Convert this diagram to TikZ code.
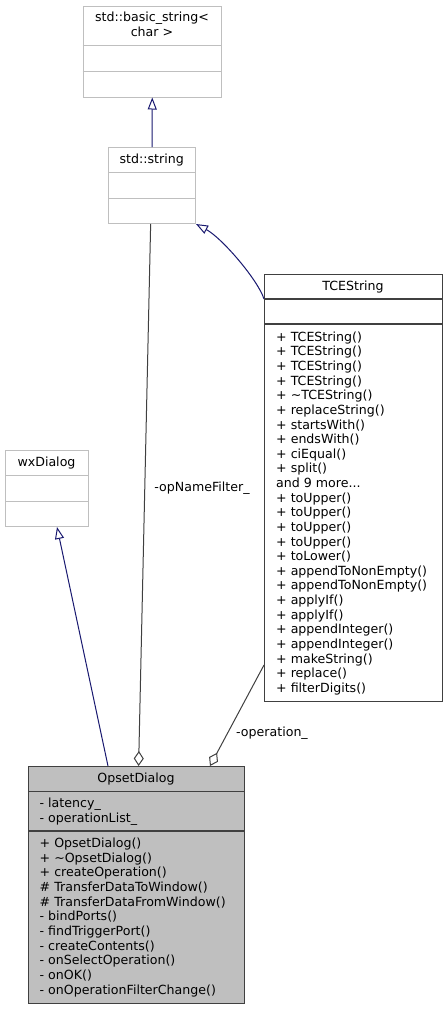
\documentclass[tikz,border=0pt]{standalone}
\usepackage{fontspec}
\newfontfamily\dv{DejaVu Sans}
\usetikzlibrary{arrows.meta,calc}
\definecolor{lgray}{HTML}{BFBFBF}
\definecolor{dgray}{HTML}{404040}
\definecolor{inhblue}{HTML}{191970}
\definecolor{fillgray}{HTML}{BFBFBF}
\newcommand\ninemore{and 9 more...}
\tikzset{
  lbox/.style={draw=lgray,line width=1pt,fill=white,anchor=north west,inner sep=0pt},
  dbox/.style={draw=dgray,line width=1.2pt,anchor=north west,inner sep=0pt},
  sepl/.style={draw=lgray,line width=1pt},
  sepd/.style={draw=dgray,line width=1.2pt},
  txt/.style={font=\dv\fontsize{12.6}{14.6}\selectfont,inner sep=0pt,anchor=base west,text=black},
  ttl/.style={font=\dv\fontsize{12.6}{14.6}\selectfont,inner sep=0pt,anchor=base,text=black},
  inh/.style={draw=inhblue,line width=1pt,-{Triangle[open,length=12,width=9]}},
  agg/.style={draw=dgray,line width=1pt,-{Diamond[open,length=15,width=10]}},
}
\begin{document}
\begin{tikzpicture}[x=1pt,y=-1pt]
\useasboundingbox (0,0) rectangle (447,1009);
\fill[white] (0,0) rectangle (447,1009);

% std::basic_string< char >
\node[lbox,minimum width=138.5pt,minimum height=90.5pt] (bs) at (82.5,6) {};
\draw[sepl] ($(bs.north west)+(0,39.7)$) -- ($(bs.north east)+(0,39.7)$);
\draw[sepl] ($(bs.north west)+(0,65)$) -- ($(bs.north east)+(0,65)$);
\node[ttl] (bst1) at (152,21.6) {std::basic\_string<};
\node[ttl] (bst2) at (152,36.6) {char >};

% std::string
\node[lbox,minimum width=86.7pt,minimum height=76pt] (ss) at (108.3,147) {};
\draw[sepl] ($(ss.north west)+(0,25.7)$) -- ($(ss.north east)+(0,25.7)$);
\draw[sepl] ($(ss.north west)+(0,51)$) -- ($(ss.north east)+(0,51)$);
\node[ttl] (sst) at (151.7,163) {std::string};

% wxDialog
\node[lbox,minimum width=83pt,minimum height=76pt] (wx) at (5,450) {};
\draw[sepl] ($(wx.north west)+(0,25.5)$) -- ($(wx.north east)+(0,25.5)$);
\draw[sepl] ($(wx.north west)+(0,51)$) -- ($(wx.north east)+(0,51)$);
\node[ttl] (wxt) at (46.5,466.6) {wxDialog};

% TCEString
\node[dbox,fill=white,minimum width=178pt,minimum height=427pt] (tce) at (264,274) {};
\draw[sepd] ($(tce.north west)+(0,25)$) -- ($(tce.north east)+(0,25)$);
\draw[sepd] ($(tce.north west)+(0,50)$) -- ($(tce.north east)+(0,50)$);
\node[ttl] (tcet) at (353,290.3) {TCEString};
\foreach \t [count=\i from 0] in {
  + TCEString(), + TCEString(), + TCEString(), + TCEString(),
  + \textasciitilde TCEString(), + replaceString(), + startsWith(),
  + endsWith(), + ciEqual(), + split(), \ninemore, + toUpper(),
  + toUpper(), + toUpper(), + toUpper(), + toLower(),
  + appendToNonEmpty(), + appendToNonEmpty(), + applyIf(), + applyIf(),
  + appendInteger(), + appendInteger(), + makeString(), + replace(),
  + filterDigits()}
  \node[txt] (tm\i) at (276,341.3+14.625*\i) {\t};

% OpsetDialog
\node[dbox,fill=fillgray,minimum width=216pt,minimum height=237pt] (ops) at (28,766) {};
\draw[sepd] ($(ops.north west)+(0,25.5)$) -- ($(ops.north east)+(0,25.5)$);
\draw[sepd] ($(ops.north west)+(0,65)$) -- ($(ops.north east)+(0,65)$);
\node[ttl] (opst) at (136,782.3) {OpsetDialog};
\node[txt] (oa0) at (39.5,807.5) {- latency\_};
\node[txt] (oa1) at (39.5,822.3) {- operationList\_};
\foreach \t [count=\i from 0] in {
  + OpsetDialog(), + \textasciitilde OpsetDialog(), + createOperation(),
  \# TransferDataToWindow(), \# TransferDataFromWindow(), - bindPorts(),
  - findTriggerPort(), - createContents(), - onSelectOperation(),
  - onOK(), - onOperationFilterChange()}
  \node[txt] (om\i) at (39.5,847.3+14.7*\i) {\t};

% connectors
\draw[inh] (ss.north) -- (bs.south);
\draw[inh] ($(tce.north west)+(0,25)$) .. controls (258,280) and (222,238) .. (ss.south east);
\draw[inh] ($(ops.north west)+(80,0)$) -- ($(wx.south)+(10,0)$);
\draw[agg] ($(ss.south)+(-1.5,0)$) -- ($(ops.north)+(2,0)$);
\draw[agg] ($(tce.north west)+(0,391)$) -- ($(ops.north west)+(182,0)$);

% labels
\node[ttl,anchor=center] (lnf) at (202,488) {-opNameFilter\_};
\node[ttl,anchor=center] (lop) at (272,733) {-operation\_};
\end{tikzpicture}
\end{document}
